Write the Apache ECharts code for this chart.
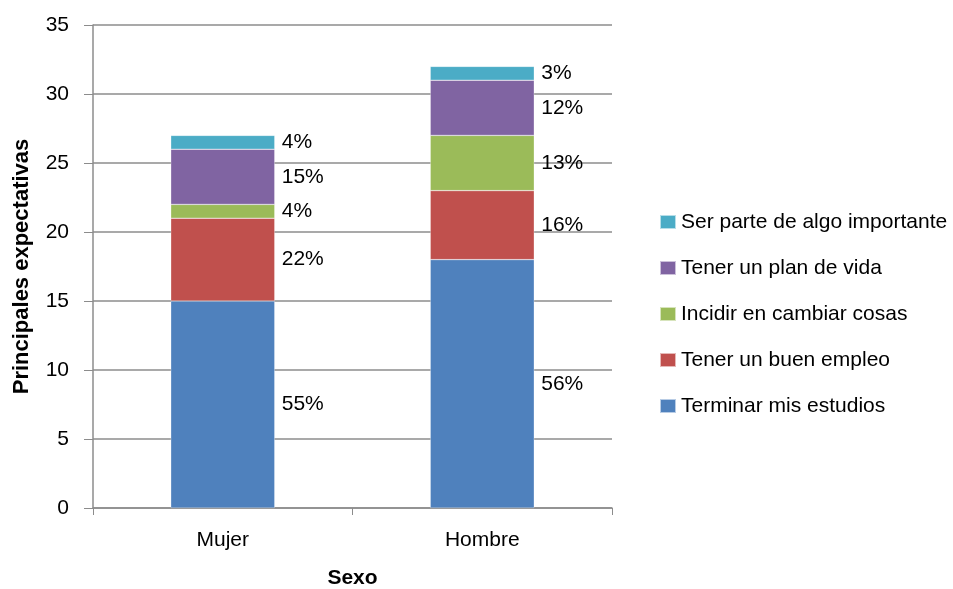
<!DOCTYPE html>
<html>
<head>
<meta charset="utf-8">
<script src="https://cdn.jsdelivr.net/npm/echarts@6/dist/echarts.min.js"></script>
<style>
  html, body { margin: 0; padding: 0; background: #fff; }
  #chart { width: 953px; height: 589px; }
</style>
</head>
<body>
<div id="chart"></div>
<script>
// data
const categories = ['Mujer', 'Hombre']
const seriesNames = ['Terminar mis estudios', 'Tener un buen empleo', 'Incidir en cambiar cosas', 'Tener un plan de vida', 'Ser parte de algo importante']
const estudios = [15, 18]
const empleo = [6, 5]
const cambiar = [1, 4]
const planVida = [4, 4]
const algoImportante = [1, 1]
const pctEstudios = ['55%', '56%']
const pctEmpleo = ['22%', '16%']
const pctCambiar = ['4%', '13%']
const pctPlanVida = ['15%', '12%']
const pctAlgo = ['4%', '3%']

const colors = ['#4F81BD', '#C0504D', '#9BBB59', '#8064A2', '#4BACC6']
const font = "'Liberation Sans', Arial, sans-serif"

const values = [estudios, empleo, cambiar, planVida, algoImportante]
const pcts = [pctEstudios, pctEmpleo, pctCambiar, pctPlanVida, pctAlgo]

let myChart = echarts.init(document.getElementById('chart'))
myChart.setOption({
  textStyle: { fontFamily: font },
  grid: {
    left: 93,
    right: 341,
    top: 25,
    bottom: 81,
    outerBoundsMode: 'none'
  },
  legend: {
    orient: 'vertical',
    left: 654,
    top: 206,
    itemWidth: 16,
    itemHeight: 14,
    itemGap: 24,
    icon: 'rect',
    data: seriesNames.slice().reverse(),
    textStyle: {
      fontFamily: font,
      fontSize: 21,
      lineHeight: 22,
      color: '#000'
    }
  },
  xAxis: {
    type: 'category',
    data: categories,
    name: 'Sexo',
    nameLocation: 'middle',
    nameGap: 60,
    nameTextStyle: { fontFamily: font, fontSize: 21, fontWeight: 'bold', color: '#000' },
    axisLine: { lineStyle: { color: '#8c8c8c', width: 1.5 } },
    axisTick: { show: true, length: 7, lineStyle: { color: '#8c8c8c' } },
    axisLabel: { fontFamily: font, fontSize: 21, color: '#000', margin: 22 }
  },
  yAxis: {
    type: 'value',
    min: 0,
    max: 35,
    interval: 5,
    name: 'Principales expectativas',
    nameLocation: 'middle',
    nameGap: 60,
    nameTextStyle: { fontFamily: font, fontSize: 22, fontWeight: 'bold', color: '#000' },
    axisLine: { show: true, lineStyle: { color: '#8c8c8c', width: 1.5 } },
    axisTick: { show: true, length: 9, lineStyle: { color: '#8c8c8c' } },
    axisLabel: { fontFamily: font, fontSize: 21, color: '#000', margin: 24 },
    splitLine: { lineStyle: { color: '#8c8c8c', width: 1.5 } }
  },
  series: seriesNames.map((name, i) => ({
    name: name,
    type: 'bar',
    stack: 'total',
    barWidth: 104,
    itemStyle: { color: colors[i], borderColor: 'rgba(255,255,255,0.6)', borderWidth: 0.5 },
    label: {
      show: true,
      position: 'right',
      distance: 7,
      fontFamily: font,
      fontSize: 21,
      color: '#000',
      formatter: p => pcts[i][p.dataIndex]
    },
    data: values[i]
  }))
})
</script>
</body>
</html>
